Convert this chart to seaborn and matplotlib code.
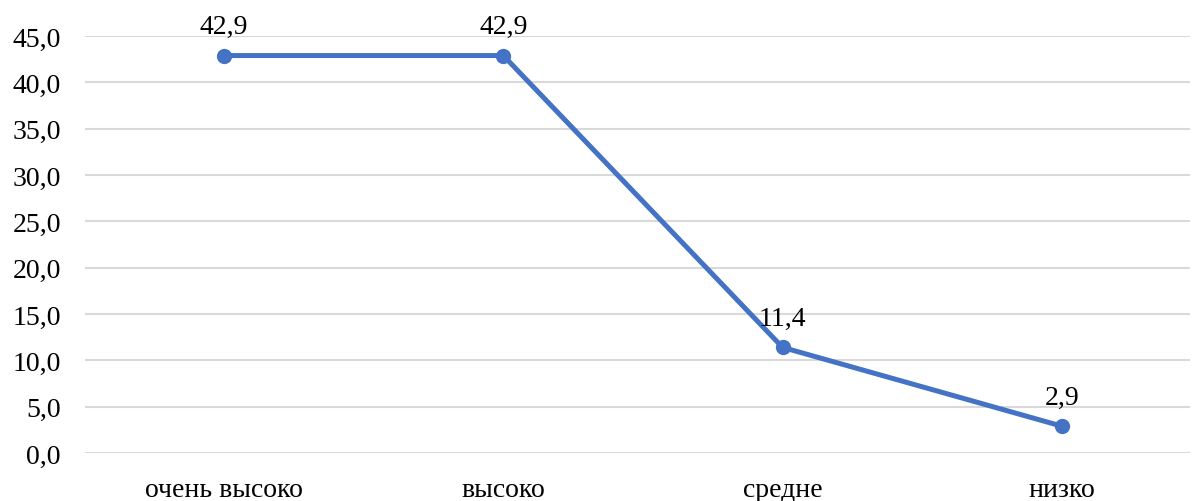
import matplotlib
matplotlib.use("Agg")
import matplotlib.pyplot as plt
import numpy as np
import pandas as pd
import seaborn as sns

categories = ["очень высоко", "высоко", "средне", "низко"]
values = [42.9, 42.9, 11.4, 2.9]
y_ticks = [0, 5, 10, 15, 20, 25, 30, 35, 40, 45]

df = pd.DataFrame({"level": categories, "pct": values})

sns.set_style("white")
plt.rcParams["font.family"] = ["Liberation Serif", "DejaVu Serif"]
plt.rcParams["text.color"] = "black"
plt.rcParams["xtick.color"] = "black"
plt.rcParams["ytick.color"] = "black"

fig = plt.figure(figsize=(11.94, 5.02), dpi=100)
ax = fig.add_axes([0.0708, 0.0956, 0.926, 0.8305])

line_color = "#4472C4"
sns.lineplot(data=df, x="level", y="pct", sort=False, ax=ax, color=line_color,
             linewidth=3.6, marker="o", markersize=11, markeredgewidth=0)

for i, v in enumerate(values):
    ax.annotate(f"{v:.1f}".replace(".", ","), (i, v), xytext=(0, 12),
                textcoords="offset points", ha="center", va="bottom", fontsize=20)

ax.set_ylim(0, 45)
ax.set_xlim(-0.5, 3.46)
ax.set_yticks(y_ticks)
ax.set_yticklabels([f"{t:.1f}".replace(".", ",") for t in y_ticks])
ax.yaxis.grid(True, color="#D9D9D9", linewidth=1.5)
ax.set_axisbelow(True)
for s in ax.spines.values():
    s.set_visible(False)
ax.tick_params(axis="both", length=0, labelsize=20)
ax.tick_params(axis="y", pad=17)
ax.tick_params(axis="x", pad=17)
ax.set_xlabel("")
ax.set_ylabel("")

fig.savefig("out.png", dpi=100)
